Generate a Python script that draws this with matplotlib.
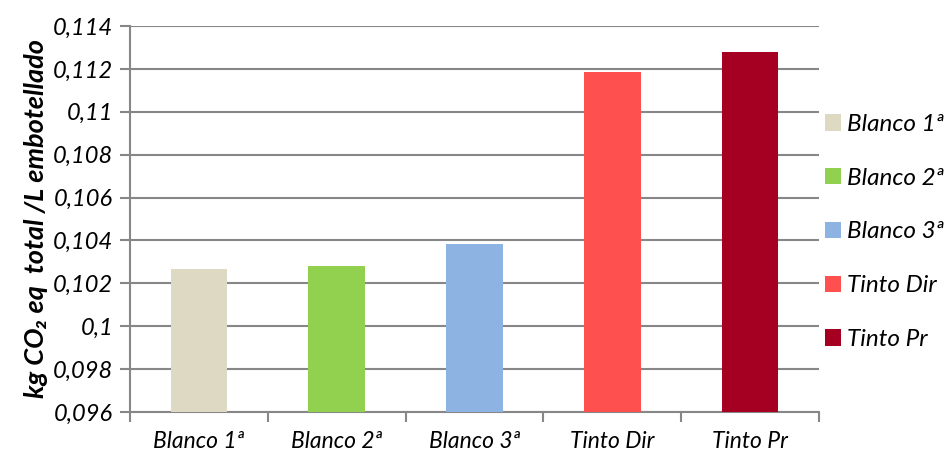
import matplotlib
matplotlib.use("Agg")
import matplotlib.pyplot as plt
import numpy as np
from matplotlib.patches import Patch

categories = ["Blanco 1ª", "Blanco 2ª", "Blanco 3ª", "Tinto Dir", "Tinto Pr"]
values = [0.10267, 0.10281, 0.10384, 0.11186, 0.11279]
colors = ["#DDD9C3", "#92D050", "#8DB3E2", "#FF5050", "#A50021"]
yticks = [0.096, 0.098, 0.1, 0.102, 0.104, 0.106, 0.108, 0.11, 0.112, 0.114]
ytick_labels = ["0,096", "0,098", "0,1", "0,102", "0,104", "0,106", "0,108", "0,11", "0,112", "0,114"]

fam = ["Lato", "DejaVu Sans"]
plt.rcParams["font.family"] = fam

fig = plt.figure(figsize=(9.52, 4.58), dpi=100)
ax = fig.add_axes([130/952, 1 - 412/458, (819-130)/952, (412-26)/458])

x = np.arange(len(categories))
ax.bar(x, values, width=0.41, color=colors, zorder=3)

ax.set_xlim(-0.5, len(categories) - 0.5)
ax.set_ylim(0.096, 0.114)
ax.set_yticks(yticks)
ax.set_yticklabels(ytick_labels, fontsize=17, style="italic")
ax.set_xticks(x)
ax.set_xticklabels(categories, fontsize=16.5, style="italic")
ax.tick_params(axis="x", which="major", length=0, pad=14)
ax.set_xticks(np.arange(-0.5, len(categories)), minor=True)
ax.tick_params(axis="x", which="minor", length=7, width=1.5, color="#878787")
ax.tick_params(axis="y", length=7, width=1.5, color="#878787", pad=5)

ax.grid(axis="y", color="#878787", linewidth=1.5, zorder=0)
for s in ["top", "right"]:
    ax.spines[s].set_visible(False)
for s in ["left", "bottom"]:
    ax.spines[s].set_color("#878787")
    ax.spines[s].set_linewidth(1.5)

ax.set_ylabel("kg CO₂ eq  total /L embotellado", fontsize=19.5, fontweight="bold",
              style="italic", labelpad=4)

handles = [Patch(facecolor=c, edgecolor="none") for c in colors]
fig.legend(handles, categories, loc="center left", bbox_to_anchor=(825/952, 1 - 232/458),
           frameon=False, prop={"size": 17.5, "style": "italic"}, handlelength=0.66,
           handleheight=0.66, labelspacing=1.35, handletextpad=0.26, borderpad=0,
           borderaxespad=0)

fig.savefig("out.png", dpi=100)
